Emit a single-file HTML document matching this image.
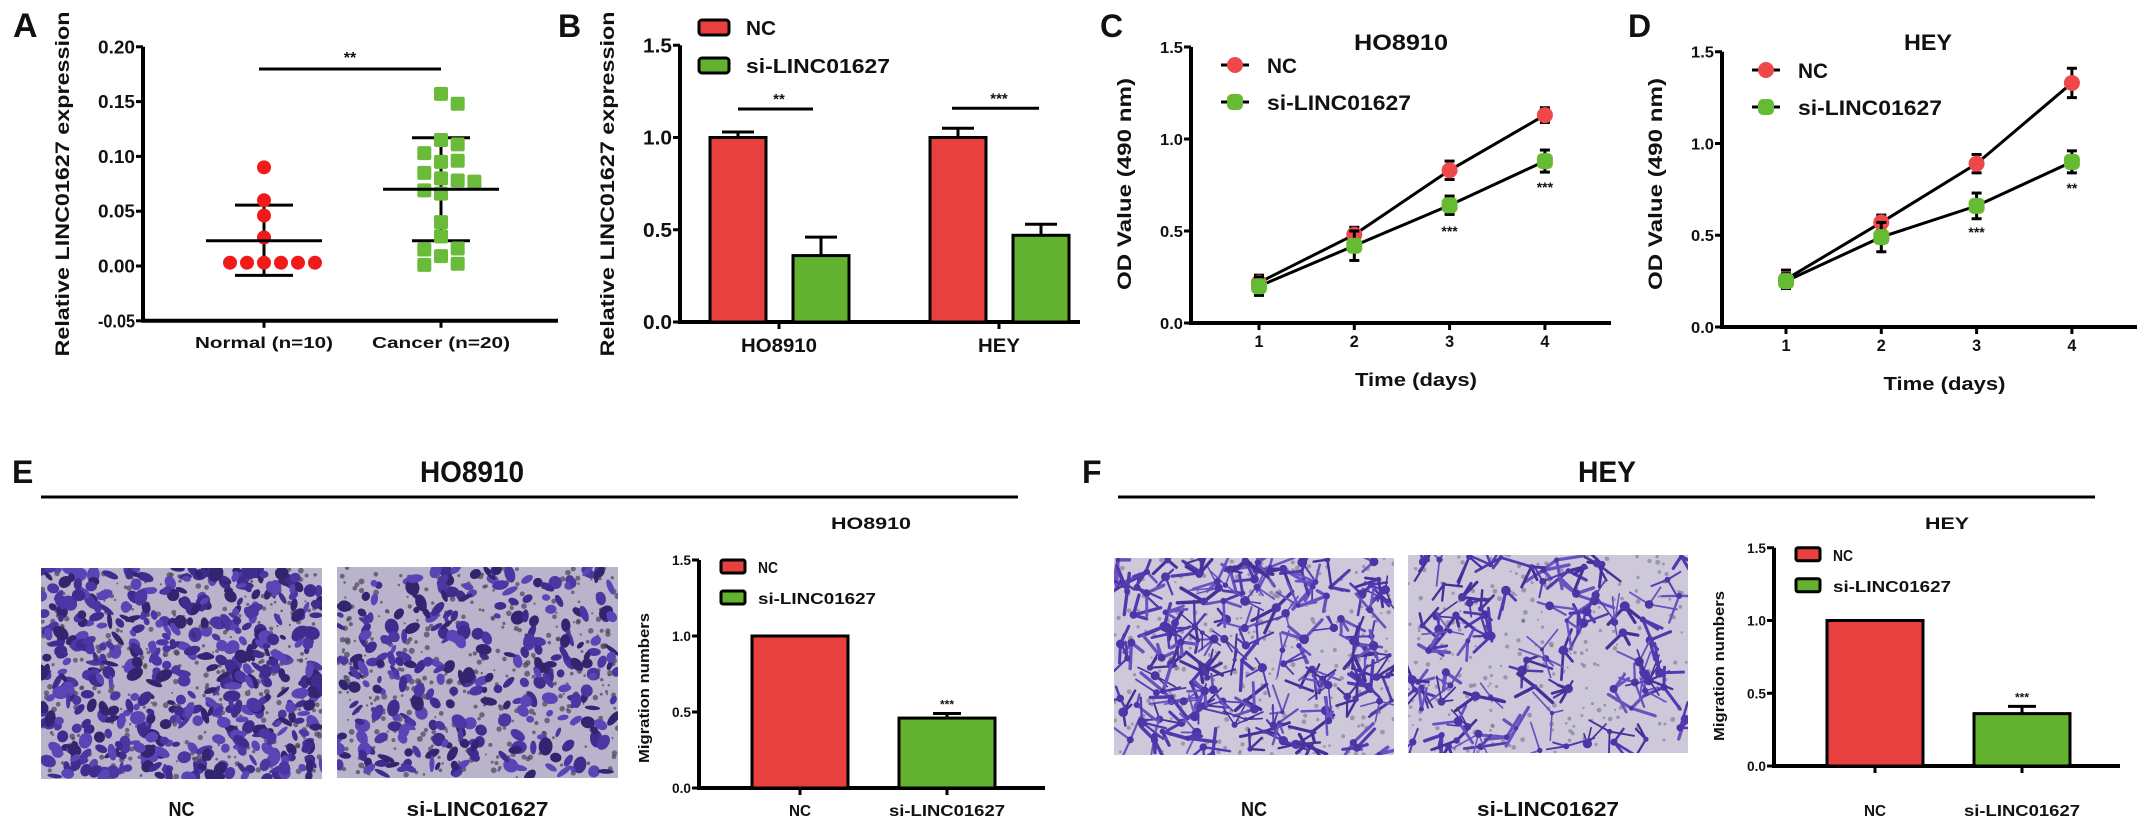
<!DOCTYPE html>
<html><head><meta charset="utf-8"><style>
html,body{margin:0;padding:0;background:#fff;}
svg{display:block;font-family:"Liberation Sans",Arial,sans-serif;font-weight:bold;}
</style></head><body>
<svg id="fig" xmlns="http://www.w3.org/2000/svg" width="2150" height="829" viewBox="0 0 2150 829"></svg>
<script>
// ---------- DATA ----------
const aGroups = ['Normal (n=10)', 'Cancer (n=20)'];
const aNormal = [0.090, 0.060, 0.046, 0.026, 0.003, 0.003, 0.003, 0.003, 0.003, 0.003];
const aCancer = [0.157, 0.148, 0.115, 0.111, 0.103, 0.095, 0.096, 0.085, 0.080, 0.078, 0.077, 0.069, 0.066, 0.040, 0.027, 0.016, 0.015, 0.009, 0.002, 0.001];
const aNormalStats = [0.023, 0.0555, -0.0085];
const aCancerStats = [0.070, 0.117, 0.023];
const aTicks = [-0.05, 0, 0.05, 0.10, 0.15, 0.20];

const bGroups = ['HO8910', 'HEY'];
const bNC = [1.0, 1.0];
const bNCErr = [0.03, 0.05];
const bSI = [0.36, 0.47];
const bSIErr = [0.10, 0.06];
const bStars = ['**', '***'];
const barTicks = [0, 0.5, 1.0, 1.5];

const days = [1, 2, 3, 4];
const cNC = [0.22, 0.48, 0.83, 1.13];
const cNCErr = [0.04, 0.04, 0.05, 0.04];
const cSI = [0.20, 0.42, 0.64, 0.88];
const cSIErr = [0.05, 0.08, 0.05, 0.06];
const cStars = ['', '', '***', '***'];
const dNC = [0.26, 0.57, 0.89, 1.33];
const dNCErr = [0.05, 0.04, 0.05, 0.08];
const dSI = [0.25, 0.49, 0.66, 0.90];
const dSIErr = [0.04, 0.08, 0.07, 0.06];
const dStars = ['', '', '***', '**'];

const migGroups = ['NC', 'si-LINC01627'];
const eVals = [1.0, 0.46];
const eErr = [0, 0.03];
const fVals = [1.0, 0.36];
const fErr = [0, 0.05];

// ---------- HELPERS ----------
const NS = 'http://www.w3.org/2000/svg';
const svg = document.getElementById('fig');
const RED = '#e8403f', GREEN = '#62b22f';
function mk(tag, attrs, parent) {
  const e = document.createElementNS(NS, tag);
  for (const k in attrs) e.setAttribute(k, attrs[k]);
  (parent || svg).appendChild(e);
  return e;
}
function nm(e, name) {
  
  
  return e;
}
function grp(name) { return nm(mk('g', {}), name); }
function line(g, x1, y1, x2, y2, w, name) {
  return nm(mk('line', {x1, y1, x2, y2, stroke: '#000', 'stroke-width': w || 3}, g), name);
}
function txt(g, x, y, s, size, anchor, name, len, extra) {
  const a = {x, y, 'font-size': size, 'text-anchor': anchor || 'middle', fill: '#111'};
  if (len) { a.textLength = len; a.lengthAdjust = 'spacingAndGlyphs'; }
  Object.assign(a, extra || {});
  const t = nm(mk('text', a, g), name);
  t.textContent = s;
  return t;
}
function vtxt(g, x, y, s, size, len, name) {
  return txt(g, x, y, s, size, 'middle', name, len, {transform: `rotate(-90 ${x} ${y})`});
}
function yAxis(g, x0, yf, ticks, dec, size, tlen) {
  line(g, x0, yf(ticks[0]) + 1.5, x0, yf(ticks[ticks.length - 1]), 4, 'y-axis-line');
  ticks.forEach(v => {
    line(g, x0 - 7, yf(v), x0, yf(v), 3, 'y-tick');
    txt(g, x0 - 8, yf(v) + size * 0.36, v.toFixed(dec), size, 'end', 'y-tick-label', tlen);
  });
}
function errBar(g, x, y1, y2, cap, name) {
  line(g, x, y1, x, y2, 3, name);
  line(g, x - cap, y2, x + cap, y2, 3, name + '-cap');
}

// ---------- PANEL A ----------
(function () {
  const g = grp('panel-a');
  const yA = v => 266 - v * 1096;
  txt(g, 13, 37, 'A', 34, 'start', 'panel-label-a');
  vtxt(g, 69, 184, 'Relative LINC01627 expression', 19, 345, 'y-axis-title');
  yAxis(g, 143, yA, aTicks, 2, 18, 37);
  line(g, 141, yA(-0.05), 558, yA(-0.05), 4, 'x-axis-line');
  const cx = [264, 441];
  aGroups.forEach((s, i) => {
    line(g, cx[i], yA(-0.05), cx[i], yA(-0.05) + 7, 3, 'x-tick');
    txt(g, cx[i], 348, s, 16, 'middle', 'x-tick-label', 138);
  });
  function swarm(vals, c, size, step) {
    const placed = [];
    return vals.map(v => {
      const y = yA(v);
      let x;
      const offs = [0];
      for (let j = 1; j < 8; j++) { offs.push(j); offs.push(-j); }
      for (let k = 0; k < offs.length; k++) {
        x = c + offs[k] * step;
        if (!placed.some(p => Math.abs(p[0] - x) < size && Math.abs(p[1] - y) < size)) break;
      }
      placed.push([x, y]);
      return [x, y];
    });
  }
  [[aNormalStats, cx[0]], [aCancerStats, cx[1]]].forEach(([st, c]) => {
    line(g, c, yA(st[1]), c, yA(st[2]), 3, 'sd-bar');
    line(g, c - 29, yA(st[1]), c + 29, yA(st[1]), 3, 'sd-cap-top');
    line(g, c - 29, yA(st[2]), c + 29, yA(st[2]), 3, 'sd-cap-bottom');
  });
  swarm(aNormal, cx[0], 14, 17).forEach(p => {
    nm(mk('circle', {cx: p[0], cy: p[1], r: 7, fill: '#f01a1a'}, g), 'normal-point');
  });
  swarm(aCancer, cx[1], 14, 16.7).forEach(p => {
    nm(mk('rect', {x: p[0] - 7, y: p[1] - 7, width: 14, height: 14, rx: 2, fill: '#6bbb3a'}, g), 'cancer-point');
  });
  [[aNormalStats, cx[0]], [aCancerStats, cx[1]]].forEach(([st, c]) => {
    line(g, c - 58, yA(st[0]), c + 58, yA(st[0]), 3, 'mean-line');
  });
  line(g, 259, 69, 441, 69, 3, 'significance-line');
  txt(g, 350, 63, '**', 16, 'middle', 'significance-stars');
})();

// ---------- PANEL B ----------
(function () {
  const g = grp('panel-b');
  const yB = v => 322 - v * 184.5;
  txt(g, 558, 37, 'B', 32, 'start', 'panel-label-b');
  vtxt(g, 614, 184, 'Relative LINC01627 expression', 19, 345, 'y-axis-title');
  yAxis(g, 680, yB, barTicks, 1, 20, 29);
  line(g, 678, yB(0), 1080, yB(0), 4, 'x-axis-line');
  const cx = [779, 999];
  bGroups.forEach((s, i) => {
    line(g, cx[i], yB(0), cx[i], yB(0) + 7, 3, 'x-tick');
    txt(g, cx[i], 352, s, 19, 'middle', 'x-tick-label', s.length > 3 ? 76 : 42);
    errBar(g, cx[i] - 41, yB(bNC[i]), yB(bNC[i] + bNCErr[i]), 16, 'nc-error');
    nm(mk('rect', {x: cx[i] - 69, y: yB(bNC[i]), width: 56, height: yB(0) - yB(bNC[i]), fill: RED, stroke: '#000', 'stroke-width': 3}, g), 'bar-nc-' + s.toLowerCase());
    errBar(g, cx[i] + 42, yB(bSI[i]), yB(bSI[i] + bSIErr[i]), 16, 'si-error');
    nm(mk('rect', {x: cx[i] + 14, y: yB(bSI[i]), width: 56, height: yB(0) - yB(bSI[i]), fill: GREEN, stroke: '#000', 'stroke-width': 3}, g), 'bar-si-' + s.toLowerCase());
    const top = Math.max(bNC[i] + bNCErr[i], bSI[i] + bSIErr[i]);
    const sy = Math.min(109, yB(top) - 20);
    line(g, cx[i] - 41 - (i ? 6 : 0), sy, cx[i] + 34 + (i ? 6 : 0), sy, 3, 'significance-line');
    txt(g, cx[i], sy - 5, bStars[i], 15, 'middle', 'significance-stars');
  });
  nm(mk('rect', {x: 699, y: 20, width: 30, height: 15, rx: 3, fill: RED, stroke: '#000', 'stroke-width': 3}, g), 'legend-swatch-nc');
  nm(mk('rect', {x: 699, y: 58, width: 30, height: 15, rx: 3, fill: GREEN, stroke: '#000', 'stroke-width': 3}, g), 'legend-swatch-si');
  txt(g, 746, 35, 'NC', 20, 'start', 'legend-label-nc', 30);
  txt(g, 746, 73, 'si-LINC01627', 20, 'start', 'legend-label-si', 144);
})();

// ---------- PANELS C & D ----------
function linePanel(opt) {
  const g = grp(opt.name);
  const yf = v => opt.y0 - v * opt.k;
  const xf = d => opt.x1 + (d - 1) * opt.dx;
  txt(g, opt.lx, 37, opt.letter, 32, 'start', 'panel-label');
  txt(g, opt.tx, 50, opt.title, 22, 'middle', 'chart-title', opt.tlen);
  vtxt(g, opt.ax - 60, 184, 'OD Value (490 nm)', 19, 212, 'y-axis-title');
  yAxis(g, opt.ax, yf, barTicks, 1, 16, 23);
  line(g, opt.ax - 2, yf(0), opt.axEnd, yf(0), 4, 'x-axis-line');
  days.forEach(d => {
    line(g, xf(d), yf(0), xf(d), yf(0) + 7, 3, 'x-tick');
    txt(g, xf(d), yf(0) + 24, String(d), 17, 'middle', 'x-tick-label', 9);
  });
  txt(g, (opt.ax + opt.axEnd) / 2 + 15, yf(0) + 63, 'Time (days)', 18, 'middle', 'x-axis-title', 122);
  function series(vals, errs, color, shape, nmSeries) {
    const pts = days.map((d, i) => [xf(d), yf(vals[i])]);
    nm(mk('polyline', {points: pts.map(p => p.join(',')).join(' '), fill: 'none', stroke: '#000', 'stroke-width': 3}, g), nmSeries + '-line');
    pts.forEach((p, i) => {
      line(g, p[0], yf(vals[i] - errs[i]), p[0], yf(vals[i] + errs[i]), 3, nmSeries + '-error');
      line(g, p[0] - 5, yf(vals[i] + errs[i]), p[0] + 5, yf(vals[i] + errs[i]), 3, nmSeries + '-error-cap');
      line(g, p[0] - 5, yf(vals[i] - errs[i]), p[0] + 5, yf(vals[i] - errs[i]), 3, nmSeries + '-error-cap');
      if (shape === 'c') nm(mk('circle', {cx: p[0], cy: p[1], r: 8, fill: color}, g), nmSeries + '-point');
      else nm(mk('rect', {x: p[0] - 8, y: p[1] - 8, width: 16, height: 16, rx: 5, fill: color}, g), nmSeries + '-point');
    });
  }
  series(opt.nc, opt.ncErr, '#f0474a', 'c', 'nc');
  series(opt.si, opt.siErr, '#66bb33', 's', 'si');
  days.forEach((d, i) => {
    if (opt.stars[i]) txt(g, xf(d), yf(opt.si[i]) + 31, opt.stars[i], 14, 'middle', 'significance-stars');
  });
  const lx = opt.ax + 44;
  [[opt.ly, '#f0474a', 'c', 'NC', 30], [opt.ly + 37, '#66bb33', 's', 'si-LINC01627', 144]].forEach(([y, c, s, label, len]) => {
    line(g, lx - 14, y, lx + 14, y, 3, 'legend-line');
    if (s === 'c') nm(mk('circle', {cx: lx, cy: y, r: 8, fill: c}, g), 'legend-marker');
    else nm(mk('rect', {x: lx - 8, y: y - 8, width: 16, height: 16, rx: 5, fill: c}, g), 'legend-marker');
    txt(g, lx + 32, y + 8, label, 21, 'start', 'legend-label', len);
  });
}
linePanel({name: 'panel-c', letter: 'C', lx: 1100, title: 'HO8910', tx: 1401, tlen: 94, ax: 1191, axEnd: 1611,
  y0: 323, k: 184, x1: 1259, dx: 95.3, nc: cNC, ncErr: cNCErr, si: cSI, siErr: cSIErr, stars: cStars, ly: 65});
linePanel({name: 'panel-d', letter: 'D', lx: 1628, title: 'HEY', tx: 1928, tlen: 48, ax: 1722, axEnd: 2137,
  y0: 327, k: 183.5, x1: 1786, dx: 95.3, nc: dNC, ncErr: dNCErr, si: dSI, siErr: dSIErr, stars: dStars, ly: 70});

// ---------- MICROSCOPY IMAGES (texture only) ----------
let seed = 12345;
function rnd() { seed = (seed * 1103515245 + 12345) % 2147483648; return seed / 2147483648; }
function micro(x, y, w, h, kind, name, uid) {
  const g = grp(name);
  const id = 'clip-' + uid;
  const cp = mk('clipPath', {id}, g);
  mk('rect', {x, y, width: w, height: h}, cp);
  const inner = mk('g', {'clip-path': `url(#${id})`}, g);
  nm(mk('rect', {x, y, width: w, height: h, fill: kind === 'e' ? '#b9b3cb' : '#cdc9da'}, inner), 'image-background');
  if (kind === 'e') {
    const n = name.indexOf('si') >= 0 ? 300 : 520;
    for (let i = 0; i < 420; i++) {
      nm(mk('circle', {cx: x + rnd() * w, cy: y + rnd() * h, r: 1 + rnd() * 2, fill: '#4a4458', opacity: 0.7}, inner), 'speck');
    }
    for (let i = 0; i < n; i++) {
      const cx = x + rnd() * w, cy = y + rnd() * h, rx = 3 + rnd() * 6, ry = 2 + rnd() * 5;
      const c = ['#4b36a4', '#3f2c8e', '#5a45b6', '#33246f'][Math.floor(rnd() * 4)];
      nm(mk('ellipse', {cx, cy, rx, ry, fill: c, transform: `rotate(${rnd() * 180} ${cx} ${cy})`}, inner), 'cell');
    }
  } else {
    const n = name.indexOf('si') >= 0 ? 95 : 150;
    for (let i = 0; i < 250; i++) {
      nm(mk('circle', {cx: x + rnd() * w, cy: y + rnd() * h, r: 1 + rnd() * 1.5, fill: '#6a6480', opacity: 0.5}, inner), 'speck');
    }
    for (let i = 0; i < n; i++) {
      const cx = x + rnd() * w, cy = y + rnd() * h;
      let d = `M${cx},${cy}`;
      for (let j = 0; j < 3; j++) {
        const a = rnd() * Math.PI * 2, L = 10 + rnd() * 20;
        d += ` M${cx},${cy} L${cx + Math.cos(a) * L},${cy + Math.sin(a) * L}`;
      }
      nm(mk('path', {d, stroke: ['#5538b0', '#45309a', '#6a50c0'][Math.floor(rnd() * 3)], 'stroke-width': 1.5 + rnd() * 2, 'stroke-linecap': 'round', fill: 'none'}, inner), 'cell');
      nm(mk('circle', {cx, cy, r: 2 + rnd() * 3, fill: '#4a36a6'}, inner), 'cell-body');
    }
  }
}

// ---------- PANELS E & F ----------
function migPanel(opt) {
  const g = grp(opt.name);
  txt(g, opt.lx, 483, opt.letter, 32, 'start', 'panel-label');
  txt(g, opt.tcx, 482, opt.title, 30, 'middle', 'section-title', opt.tlen);
  line(g, opt.lineX1, 497, opt.lineX2, 497, 3, 'section-rule');
  micro(opt.img1[0], opt.img1[1], opt.img1[2], opt.img1[3], opt.kind, 'image-nc', opt.name + '-nc');
  micro(opt.img2[0], opt.img2[1], opt.img2[2], opt.img2[3], opt.kind, 'image-si', opt.name + '-si');
  txt(g, opt.img1[0] + opt.img1[2] / 2, 816, 'NC', 20, 'middle', 'image-label-nc', 26);
  txt(g, opt.img2[0] + opt.img2[2] / 2, 816, 'si-LINC01627', 20, 'middle', 'image-label-si', 142);
  const yf = v => opt.y0 - v * opt.k;
  txt(g, opt.stx, 529, opt.title, 17, 'middle', 'chart-title', opt.stlen);
  vtxt(g, opt.ax - 50, opt.y0 - 100, 'Migration numbers', 15, 150, 'y-axis-title');
  yAxis(g, opt.ax, yf, barTicks, 1, 14, 19);
  line(g, opt.ax - 2, yf(0), opt.axEnd, yf(0), 4, 'x-axis-line');
  const vals = opt.vals, errs = opt.errs, cols = [RED, GREEN];
  migGroups.forEach((s, i) => {
    const c = opt.cx[i];
    line(g, c, yf(0), c, yf(0) + 7, 3, 'x-tick');
    txt(g, c, 816, s, 16, 'middle', 'x-tick-label', i ? 116 : 22);
    if (errs[i] > 0) errBar(g, c, yf(vals[i]), yf(vals[i] + errs[i]), 14, 'error-bar');
    nm(mk('rect', {x: c - 48, y: yf(vals[i]), width: 96, height: yf(0) - yf(vals[i]), fill: cols[i], stroke: '#000', 'stroke-width': 3}, g), 'bar-' + (i ? 'si' : 'nc'));
    if (i) txt(g, c, yf(vals[i] + errs[i]) - 5, '***', 12, 'middle', 'significance-stars');
  });
  const bx = opt.ax + 22;
  nm(mk('rect', {x: bx, y: opt.y0 - 1.5 * opt.k, width: 24, height: 13, rx: 2, fill: RED, stroke: '#000', 'stroke-width': 3}, g), 'legend-swatch-nc');
  nm(mk('rect', {x: bx, y: opt.y0 - 1.5 * opt.k + 31, width: 24, height: 13, rx: 2, fill: GREEN, stroke: '#000', 'stroke-width': 3}, g), 'legend-swatch-si');
  txt(g, bx + 37, opt.y0 - 1.5 * opt.k + 13, 'NC', 16, 'start', 'legend-label-nc', 20);
  txt(g, bx + 37, opt.y0 - 1.5 * opt.k + 44, 'si-LINC01627', 16, 'start', 'legend-label-si', 118);
}
migPanel({name: 'panel-e', letter: 'E', lx: 12, title: 'HO8910', tcx: 472, tlen: 104, lineX1: 41, lineX2: 1018,
  img1: [41, 568, 281, 211], img2: [337, 567, 281, 211], kind: 'e', stx: 871, stlen: 80,
  ax: 699, axEnd: 1045, y0: 788, k: 152, cx: [800, 947], vals: eVals, errs: eErr});
migPanel({name: 'panel-f', letter: 'F', lx: 1082, title: 'HEY', tcx: 1607, tlen: 58, lineX1: 1118, lineX2: 2095,
  img1: [1114, 558, 280, 197], img2: [1408, 555, 280, 198], kind: 'f', stx: 1947, stlen: 44,
  ax: 1774, axEnd: 2120, y0: 766, k: 145.5, cx: [1875, 2022], vals: fVals, errs: fErr});
</script>
</body></html>
